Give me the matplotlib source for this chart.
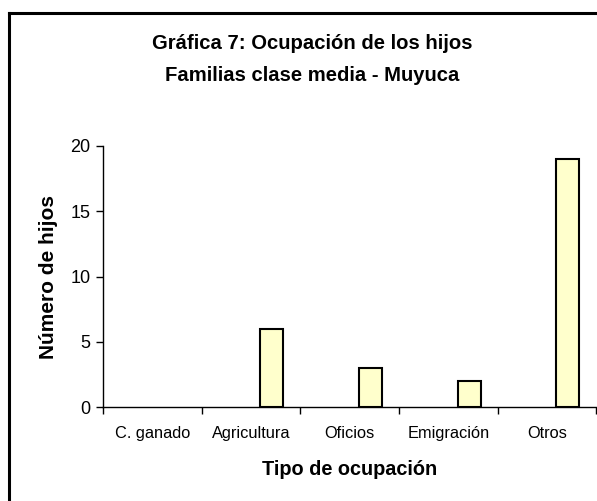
import numpy as np
import matplotlib
matplotlib.use("Agg")
import matplotlib.pyplot as plt
from matplotlib.lines import Line2D

# ---------------- DATA ----------------
categorias = ["C. ganado", "Agricultura", "Oficios", "Emigración", "Otros"]
num_hijos = [0, 6, 3, 2, 19]
y_ticks = [0, 5, 10, 15, 20]
# --------------------------------------

plt.rcParams['font.family'] = ['Liberation Sans', 'DejaVu Sans']

fig = plt.figure(figsize=(5.97, 5.01), dpi=100)
ax = fig.add_axes([0.1725, 0.1876, 0.8265, 0.521])

x = np.arange(len(categorias))
# empty bars get no outline, like in the original (hidden by the axis)
edges = ['none' if v == 0 else 'black' for v in num_hijos]
ax.bar(x + 0.21, num_hijos, width=0.235, color='#FFFFCC',
       edgecolor=edges, linewidth=1.5, zorder=2)

ax.set_xlim(-0.5, len(categorias) - 0.5)
ax.set_ylim(0, 20)
ax.set_yticks(y_ticks)
ax.set_yticklabels([str(v) for v in y_ticks], fontsize=13)

# category boundaries as major ticks, labels on minor ticks
ax.set_xticks(np.arange(len(categorias) + 1) - 0.5)
ax.set_xticklabels([])
ax.set_xticks(x, minor=True)
ax.set_xticklabels(categorias, minor=True, fontsize=11.8)
ax.tick_params(axis='x', which='minor', length=0, pad=14)
ax.tick_params(axis='x', which='major', length=5, width=1, direction='out')
ax.tick_params(axis='y', length=5, width=1, direction='out', pad=4)

for s in ['top', 'right']:
    ax.spines[s].set_visible(False)
for s in ['left', 'bottom']:
    ax.spines[s].set_linewidth(1)
    ax.spines[s].set_zorder(3)

ax.set_ylabel("Número de hijos", fontsize=15, fontweight='bold', labelpad=9)
ax.set_xlabel("Tipo de ocupación", fontsize=14.3, fontweight='bold', labelpad=13)

fig.text(0.523, 0.913, "Gráfica 7: Ocupación de los hijos", ha='center', va='center',
         fontsize=14.6, fontweight='bold')
fig.text(0.523, 0.850, "Familias clase media - Muyuca", ha='center', va='center',
         fontsize=14.6, fontweight='bold')

# outer frame (left and top edges visible)
fig.add_artist(Line2D([0.0155, 0.0155], [0.0, 0.974], color='black', lw=2.2,
                      transform=fig.transFigure))
fig.add_artist(Line2D([0.0155, 1.0], [0.974, 0.974], color='black', lw=2.2,
                      transform=fig.transFigure))

fig.savefig("out.png", dpi=100)
